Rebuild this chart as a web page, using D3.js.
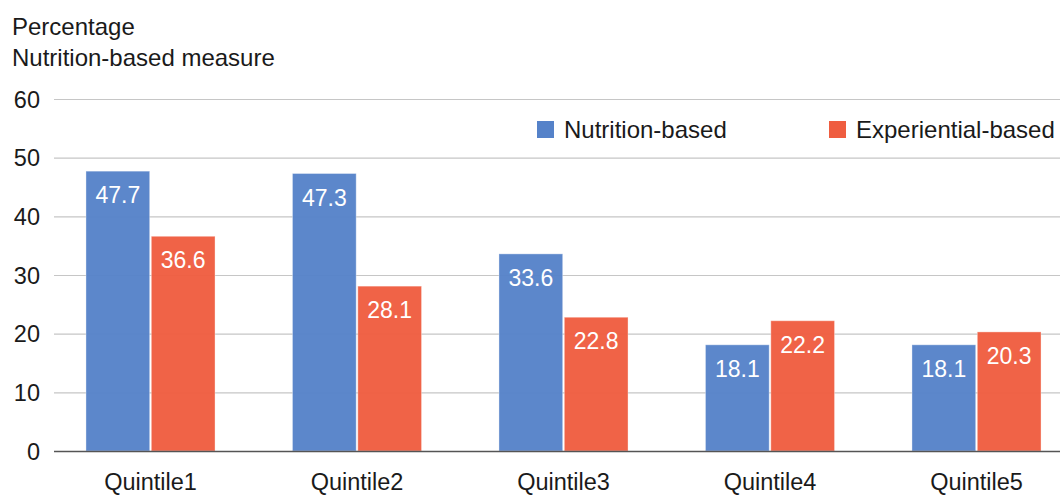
<!DOCTYPE html>
<html>
<head>
<meta charset="utf-8">
<script src="https://cdn.jsdelivr.net/npm/d3@7"></script>
<style>
  html, body { margin: 0; padding: 0; background: #fff; }
  text { font-family: "Liberation Sans", Arial, Helvetica, sans-serif; }
</style>
</head>
<body>
<svg id="chart" width="1060" height="495"></svg>
<script>
const categories = ["Quintile1", "Quintile2", "Quintile3", "Quintile4", "Quintile5"];
const seriesNames = ["Nutrition-based", "Experiential-based"];
const nutritionValues = [47.7, 47.3, 33.6, 18.1, 18.1];
const experientialValues = [36.6, 28.1, 22.8, 22.2, 20.3];
const yTicks = [0, 10, 20, 30, 40, 50, 60];
const titleLines = ["Percentage", "Nutrition-based measure"];
const colors = ["#5582c9", "#ef5d40"];

const data = categories.map((c, i) => ({
  cat: c,
  vals: [
    { s: seriesNames[0], v: nutritionValues[i], k: 0 },
    { s: seriesNames[1], v: experientialValues[i], k: 1 }
  ]
}));

const svg = d3.select("#chart");

const y = d3.scaleLinear().domain([0, 60]).range([451, 99]);
const x = d3.scaleBand().domain(categories).range([47.25, 1079.75]).paddingInner(0.375).paddingOuter(0.1875);
const xs = d3.scaleBand().domain(seriesNames).range([0, x.bandwidth()]).paddingInner(0.025);

// title
svg.selectAll("text.title").data(titleLines).enter().append("text")
  .attr("class", "title")
  .attr("x", 12).attr("y", (d, i) => 35 + i * 30.5)
  .attr("font-size", 24).attr("fill", "#1a1a1a")
  .text(d => d);

// gridlines
svg.append("g").selectAll("line").data(yTicks.filter(t => t > 0)).enter().append("line")
  .attr("x1", 54).attr("x2", 1060)
  .attr("y1", d => y(d) + 0.5).attr("y2", d => y(d) + 0.5)
  .attr("stroke", "#c6c6c6").attr("stroke-width", 1.2);

// y tick labels
svg.append("g").selectAll("text").data(yTicks).enter().append("text")
  .attr("x", 40).attr("y", d => y(d) + 8.5)
  .attr("text-anchor", "end").attr("font-size", 23.5).attr("fill", "#1a1a1a")
  .text(d => d);

// bars
const groups = svg.append("g").selectAll("g").data(data).enter().append("g")
  .attr("transform", d => `translate(${x(d.cat)},0)`);

groups.selectAll("rect").data(d => d.vals).enter().append("rect")
  .attr("x", d => xs(d.s))
  .attr("y", d => y(d.v))
  .attr("width", xs.bandwidth())
  .attr("height", d => y(0) - y(d.v))
  .attr("fill", d => colors[d.k])
  .attr("fill-opacity", 0.96)
  .attr("stroke", "#ffffff").attr("stroke-opacity", 0.35).attr("stroke-width", 1);

groups.selectAll("text").data(d => d.vals).enter().append("text")
  .attr("x", d => xs(d.s) + xs.bandwidth() / 2)
  .attr("y", d => y(d.v) + 32)
  .attr("text-anchor", "middle").attr("font-size", 23).attr("fill", "#ffffff")
  .text(d => d.v.toFixed(1));

// baseline
svg.append("line")
  .attr("x1", 54).attr("x2", 1060)
  .attr("y1", y(0) + 0.5).attr("y2", y(0) + 0.5)
  .attr("stroke", "#555").attr("stroke-width", 1.5);

// x axis labels
svg.append("g").selectAll("text").data(categories).enter().append("text")
  .attr("x", d => x(d) + x.bandwidth() / 2)
  .attr("y", 490)
  .attr("text-anchor", "middle").attr("font-size", 23.5).attr("fill", "#1a1a1a")
  .text(d => d);

// legend
const legendX = [537, 829];
const legend = svg.append("g").selectAll("g").data(seriesNames).enter().append("g")
  .attr("transform", (d, i) => `translate(${legendX[i]},121)`);
legend.append("rect").attr("width", 17).attr("height", 17)
  .attr("fill", (d, i) => colors[i]);
legend.append("text").attr("x", 27).attr("y", 17)
  .attr("font-size", 24).attr("fill", "#1a1a1a")
  .text(d => d);
</script>
</body>
</html>
